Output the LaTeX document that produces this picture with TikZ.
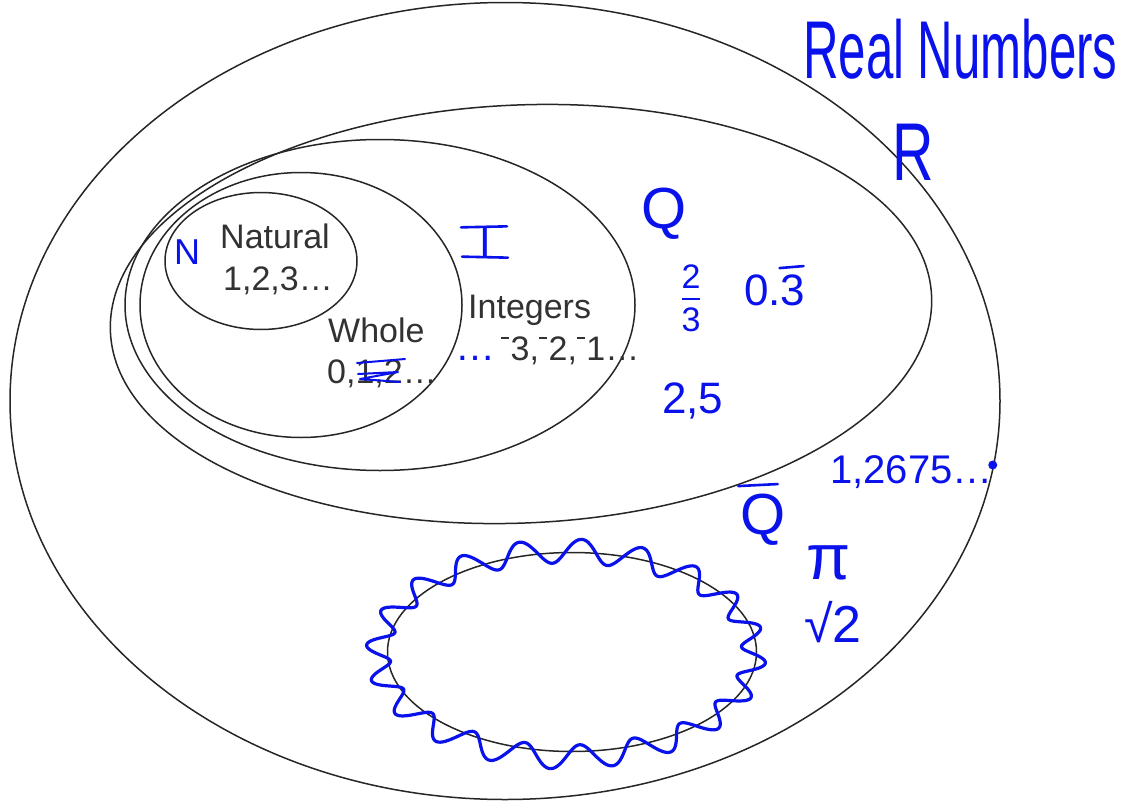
\documentclass[tikz,border=0pt]{standalone}
\usepackage{amsmath}
\usepackage{graphicx}
\usepackage{fontspec}
\setmainfont{Liberation Sans}
\usetikzlibrary{shapes.geometric,calc}
\definecolor{penblue}{RGB}{10,18,235}
\definecolor{printgray}{RGB}{50,50,50}
\newcommand{\fsz}[1]{\fontsize{#1}{#1}\selectfont}
\newcommand{\narrow}[2][0.6]{\scalebox{#1}[1]{#2}}
\newcommand{\hibar}{\rule[.62em]{.24em}{.06em}\kern.04em}

\begin{document}
\begin{tikzpicture}[x=1pt,y=-1pt,
  setoval/.style={ellipse,draw=black!85,line width=1.5pt,inner sep=0pt},
  printed/.style={text=printgray,font=\fsz{34},inner sep=0pt,anchor=base west},
  hand/.style={text=penblue,inner sep=0pt},
  pen/.style={draw=penblue,line width=2.6pt,line cap=round,line join=round}]

\useasboundingbox (0,0) rectangle (1125,803);

% the nested sets
\node[setoval,minimum width=990pt,minimum height=797pt] (real) at (505,401) {};
\node[setoval,minimum width=822pt,minimum height=418pt,rotate=2.5] (rational) at (521,314) {};
\node[setoval,minimum width=510pt,minimum height=331pt] (integer) at (380,305) {};
\node[setoval,minimum width=322pt,minimum height=265pt] (whole) at (301,305) {};
\node[setoval,minimum width=192pt,minimum height=137pt] (natural) at (261,261) {};
\node[setoval,minimum width=369pt,minimum height=199pt] (irrational) at (572,652) {};

% printed labels
\node[printed] (natname) at (220,248) {Natural};
\node[printed] (natnum) at (223,290) {1,2,3\ldots};
\node[printed] (wholename) at (328,342) {Whole};
\node[printed] (wholenum) at (327,383) {0,1,2\ldots};
\node[printed] (intname) at (468,318) {Integers};
\node[printed] (intnum) at (501,360) {\hibar3,\hibar2,\hibar1\ldots};

% handwritten labels
\node[hand,anchor=base west,font=\fsz{82}] (realname) at (803,78) {\narrow{Real Numbers}};
\node[hand,anchor=base west,font=\fsz{82}] (realsym) at (892,180) {\narrow[0.7]{R}};
\node[hand,font=\fsz{58}] (ratsym) at (664,214) {Q};
\node[hand,font=\fsz{42}] (intsym) at (485,242) {I};
\node[hand,font=\fsz{36}] (natsym) at (187,252) {N};
\node[hand,font=\fsz{34}] (twothirds) at (691,298) {$\genfrac{}{}{2.5pt}{0}{\text{2}}{\text{3}}$};
\node[hand,anchor=base west,font=\fsz{44}] (repdec) at (744,305) {0.3};
\node[hand,anchor=base west,font=\fsz{44}] (twofive) at (662,413) {2,5};
\node[hand,anchor=base west,font=\fsz{40}] (longdec) at (830,483) {1,2675\ldots};
\node[hand,font=\fsz{58}] (irrsym) at (763,520) {Q};
\node[hand,font=\fsz{64}] (pisym) at (829,563) {π};
\node[hand,font=\fsz{52}] (rootsym) at (833,622) {√2};
\node[hand,anchor=base west,font=\fsz{40}] (intdots) at (455,360) {\ldots};

% pen strokes
\draw[pen] ($(intsym.north)+(-24,0)$) -- ($(intsym.north)+(22,-1)$);
\draw[pen] ($(intsym.south)+(-23,0)$) -- ($(intsym.south)+(23,1)$);
\draw[pen] ($(repdec.north east)+(-26,-6)$) -- ($(repdec.north east)+(-2,-8)$);
\draw[pen] ($(irrsym.north west)+(-2,-8)$) -- ($(irrsym.north east)+(-8,-10)$);
\fill[penblue] ($(longdec.base east)+(0,-18)$) circle (4.5);
\draw[pen,line width=2pt] (357,363) -- (405,359);
\draw[pen,line width=2pt] (358,374) -- (398,372) -- (360,379) -- (400,382);
\draw[pen,line width=3.2pt] plot[domain=0:360,samples=600,variable=\t]
  ({566+(188+12*sin(20*\t))*cos(\t)},{654+(103+12*sin(20*\t))*sin(\t)});
\end{tikzpicture}
\end{document}
